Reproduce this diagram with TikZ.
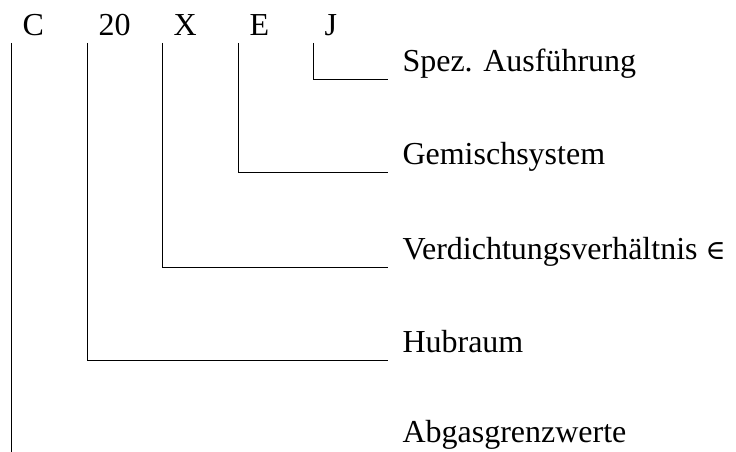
\documentclass[tikz,border=0pt]{standalone}
\usepackage{fontspec}
\setmainfont{Liberation Serif}
\newfontfamily\symbfont{DejaVu Serif}

\begin{document}
\begin{tikzpicture}[x=1pt, y=-1pt, line width=1pt,
  every node/.style={inner sep=0pt, font=\fontsize{32}{38}\selectfont}]
  \useasboundingbox (0,0) rectangle (736,452);
  \node [anchor=base west] (c) at (22,36) {C};
  \node [anchor=base west] (n20) at (98,36) {20};
  \node [anchor=base west] (x) at (173,36) {X};
  \node [anchor=base west] (e) at (249,36) {E};
  \node [anchor=base west] (j) at (324,36) {J};
  \node [anchor=base west] (spez) at (402,71) {Spez. Ausführung};
  \node [anchor=base west] (gem) at (402,164) {Gemischsystem};
  \node [anchor=base west] (verd) at (402,259) {Verdichtungsverhältnis {\symbfont\fontsize{27}{32}\selectfont ∈}};
  \node [anchor=base west] (hub) at (402,352) {Hubraum};
  \node [anchor=base west] (abgas) at (402,442) {Abgasgrenzwerte};
  \coordinate (cend) at (11,452);
  \draw ([xshift=-11pt,yshift=-7pt]j.base west) |- ([xshift=-14pt,yshift=-8pt]spez.base west);
  \draw ([xshift=-11pt,yshift=-7pt]e.base west) |- ([xshift=-14pt,yshift=-8pt]gem.base west);
  \draw ([xshift=-11pt,yshift=-7pt]x.base west) |- ([xshift=-14pt,yshift=-8pt]verd.base west);
  \draw ([xshift=-11pt,yshift=-7pt]n20.base west) |- ([xshift=-14pt,yshift=-8pt]hub.base west);
  \draw ([xshift=-11pt,yshift=-7pt]c.base west) -- (cend);
\end{tikzpicture}
\end{document}
